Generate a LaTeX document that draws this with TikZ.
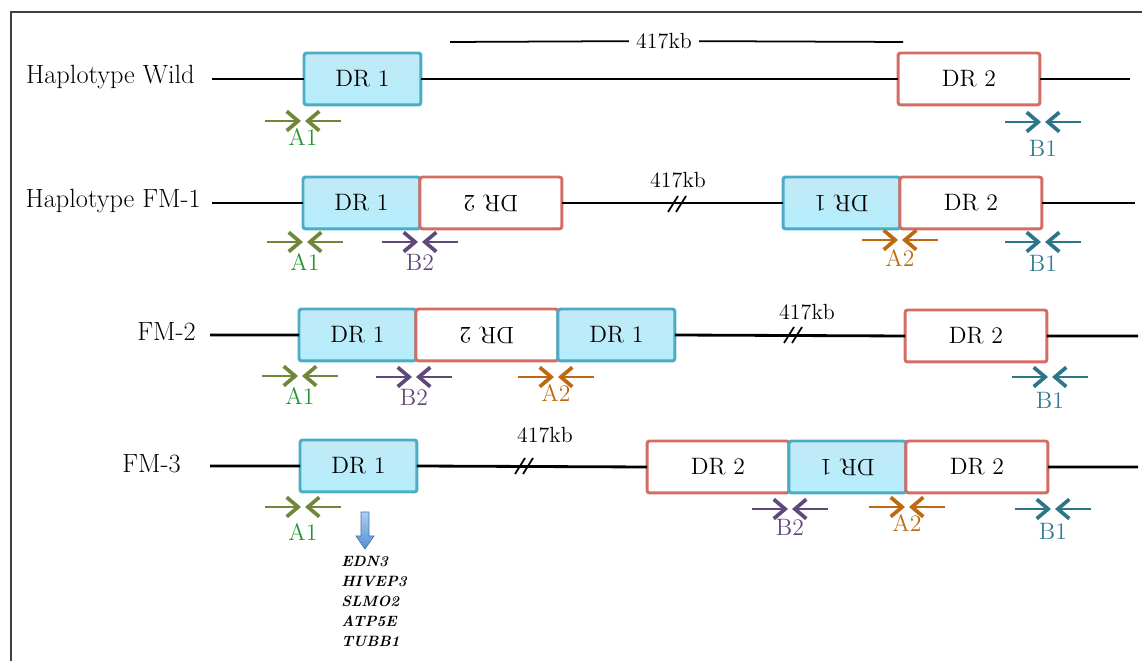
\documentclass[tikz,border=0pt]{standalone}
\usepackage{graphicx}
\usetikzlibrary{arrows.meta, positioning}

\definecolor{drblue}{RGB}{75,172,198}
\definecolor{drtop}{RGB}{194,233,246}
\definecolor{drbot}{RGB}{180,238,253}
\definecolor{drred}{RGB}{213,108,100}
\definecolor{a1}{RGB}{112,135,58}
\definecolor{a1lab}{RGB}{35,150,45}
\definecolor{b2}{RGB}{95,73,122}
\definecolor{b2lab}{RGB}{95,73,122}
\definecolor{a2}{RGB}{190,105,15}
\definecolor{a2lab}{RGB}{190,105,15}
\definecolor{b1}{RGB}{45,118,138}
\definecolor{b1lab}{RGB}{50,125,145}
\definecolor{genetop}{RGB}{175,205,242}
\definecolor{genebot}{RGB}{85,145,215}

\begin{document}
\begin{tikzpicture}[
    x=0.02cm, y=-0.02cm,
    node distance=0pt,
    rowlab/.style={anchor=east, inner sep=0pt, font=\fontsize{15}{17}\selectfont},
    dr/.style={rectangle, rounded corners=1.5pt, line width=1.7pt, minimum height=1.04cm,
               outer sep=0pt, inner sep=0pt, font=\fontsize{13.5}{15}\selectfont},
    dra/.style={dr, draw=drblue, top color=drtop, bottom color=drbot, minimum width=2.34cm},
    drb/.style={dr, draw=drred, fill=white, minimum width=2.84cm},
    dna/.style={line width=1.6pt},
    dim/.style={line width=1pt},
    kb/.style={inner sep=4pt, font=\fontsize{12.5}{14}\selectfont},
    plab/.style={inner sep=0pt, font=\fontsize{13.5}{15}\selectfont},
    prim/.style={line width=1.1pt, -{Straight Barb[length=6.5pt, width=11pt, line width=2.1pt]}},
    genes/.style={align=left, inner sep=0pt, font=\fontsize{8.5}{11.3}\selectfont\bfseries\itshape},
    pics/brk/.style={code={\draw[line width=1pt] (-9,8) -- (1,-8) (-1,8) -- (9,-8);}},
    pics/primer/.style n args={3}{code={
        \coordinate (-l) at (-38,0); \coordinate (-lt) at (-2,0);
        \coordinate (-r) at (38,0);  \coordinate (-rt) at (2,0);
        \draw[prim, draw=#1] (-l) -- (-lt);
        \draw[prim, draw=#1] (-r) -- (-rt);
        \node[plab, text=#1lab] (-lab) at (0,#3) {#2};
    }}
]
\useasboundingbox (0,0) rectangle (1142,661);
\draw[line width=0.8pt, black!75] (1142,12) -- (11,12) -- (11,661);

% wild type
\node[rowlab] (wild) at (195,77) {Haplotype Wild};
\coordinate (w0) at (212,79);
\node[dra, anchor=west] (w1) at (304,79) {DR 1};
\node[drb, anchor=west] (w2) at (898,79) {DR 2};
\coordinate (w9) at (1130,79);
\draw[dna] (w0) -- (w1.west) (w1.east) -- (w2.west) (w2.east) -- (w9);
\coordinate (d0) at (450,42);
\coordinate (d1) at (903,42);
\node[kb] (dkb) at (664,41) {417kb};
\draw[dim] (d0) -- (dkb) -- (d1);
\pic (wa1) at (303,121) {primer={a1}{A1}{16}};
\pic (wb1) at (1043,122) {primer={b1}{B1}{26}};

% FM-1
\node[rowlab] (fm1) at (201,201) {Haplotype FM-1};
\coordinate (f0) at (212,203);
\node[dra, anchor=west] (f1) at (303,203) {DR 1};
\node[drb, right=of f1] (f2) {\rotatebox{180}{DR 2}};
\node[dra, anchor=west] (f3) at (783,203) {\rotatebox{180}{DR 1}};
\node[drb, right=of f3] (f4) {DR 2};
\coordinate (f9) at (1135,203);
\draw[dna] (f0) -- (f1.west) (f2.east) -- (f3.west) (f4.east) -- (f9);
\pic at (677,204) {brk};
\node[kb] (fkb) at (678,180) {417kb};
\pic (fa1) at (305,242) {primer={a1}{A1}{20}};
\pic (fb2) at (420,242) {primer={b2}{B2}{20}};
\pic (fa2) at (900,240) {primer={a2}{A2}{18}};
\pic (fb1) at (1043,242) {primer={b1}{B1}{21}};

% FM-2
\node[rowlab] (fm2) at (196,332) {FM-2};
\coordinate (g0) at (210,335);
\node[dra, anchor=west] (g1) at (299,335) {DR 1};
\node[drb, right=of g1] (g2) {\rotatebox{180}{DR 2}};
\node[dra, right=of g2] (g3) {DR 1};
\node[drb, anchor=west] (g4) at (905,336) {DR 2};
\coordinate (g9) at (1138,336);
\draw[dna] (g0) -- (g1.west) (g3.east) -- (g4.west) (g4.east) -- (g9);
\pic at (793,335) {brk};
\node[kb] (gkb) at (807,312) {417kb};
\pic (ga1) at (300,376) {primer={a1}{A1}{20}};
\pic (gb2) at (414,377) {primer={b2}{B2}{20}};
\pic (ga2) at (556,377) {primer={a2}{A2}{16}};
\pic (gb1) at (1050,377) {primer={b1}{B1}{23}};

% FM-3
\node[rowlab] (fm3) at (181,464) {FM-3};
\coordinate (h0) at (210,466);
\node[dra, anchor=west] (h1) at (300,466) {DR 1};
\node[drb, anchor=west] (h2) at (647,467) {DR 2};
\node[dra, right=of h2] (h3) {\rotatebox{180}{DR 1}};
\node[drb, right=of h3] (h4) {DR 2};
\coordinate (h9) at (1138,467);
\draw[dna] (h0) -- (h1.west) (h1.east) -- (h2.west) (h4.east) -- (h9);
\pic at (524,466) {brk};
\node[kb] (hkb) at (545,435) {417kb};
\pic (ha1) at (303,507) {primer={a1}{A1}{25}};
\pic (hb2) at (790,509) {primer={b2}{B2}{18}};
\pic (ha2) at (907,507) {primer={a2}{A2}{16}};
\pic (hb1) at (1053,509) {primer={b1}{B1}{22}};

% genes in DR 1
\shade[top color=genetop, bottom color=genebot, draw=genebot!80!black, line width=0.4pt]
    (361,512) -- (369,512) -- (369,536) -- (374,536) -- (365,549) -- (356,536) -- (361,536) -- cycle;
\node[genes, anchor=north west] (genes) at (341,556) {EDN3\\HIVEP3\\SLMO2\\ATP5E\\TUBB1};
\end{tikzpicture}
\end{document}
